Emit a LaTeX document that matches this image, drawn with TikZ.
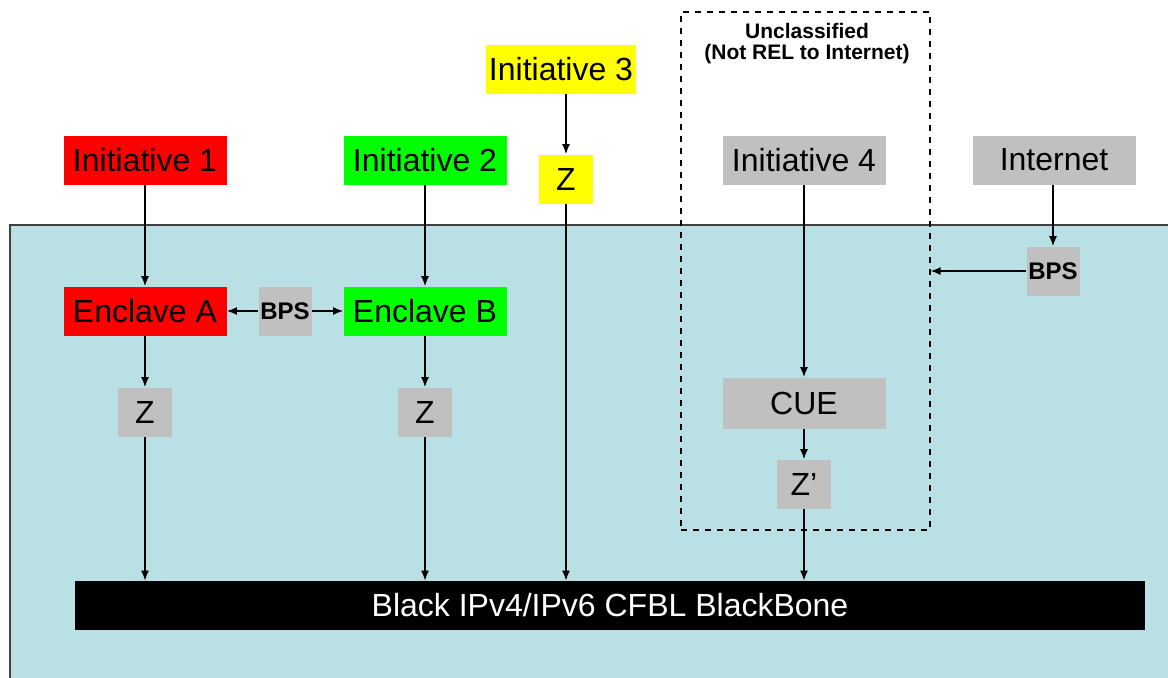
\documentclass[tikz,border=0pt]{standalone}
\usepackage{fontspec}
\setmainfont{Liberation Sans}
\usetikzlibrary{arrows.meta}
\definecolor{seablue}{RGB}{185,224,228}
\definecolor{boxgray}{RGB}{192,192,192}
\definecolor{redbox}{RGB}{255,0,0}
\definecolor{greenbox}{RGB}{0,255,0}
\definecolor{yellowbox}{RGB}{255,255,0}
\tikzset{
	unit/.style={minimum width=81.5pt, minimum height=24.5pt, inner sep=0pt, font=\fontsize{16}{19}\selectfont},
	zbox/.style={unit, minimum width=27pt},
	bpsbox/.style={unit, minimum width=26.5pt, fill=boxgray, font=\bfseries\fontsize{12}{14}\selectfont},
	link/.style={-{Latex[length=5pt,width=4pt]}, line width=0.75pt},
}

\begin{document}
\begin{tikzpicture}[x=0.5pt, y=-0.5pt]
			%%%%% START %%%%%
			\useasboundingbox (0, 0) rectangle (1168, 677);
			
			\draw[fill=seablue, draw=black!75, line width=0.9pt] (10, 225) rectangle (1175, 685);
			
			\node[draw, dashed, line width=0.6pt, minimum width=124.5pt, minimum height=259pt] (unclass) at (805.5, 271) {};
			\node[align=center, font=\bfseries\fontsize{10.5}{10.5}\selectfont] (unclasstxt) at (807, 44) {Unclassified\\(Not REL to Internet)};
			
			\node[unit, fill=redbox] (init1) at (145, 160) {Initiative 1};
			\node[unit, fill=greenbox] (init2) at (425, 160) {Initiative 2};
			\node[unit, fill=yellowbox, minimum width=75pt] (init3) at (561, 69) {Initiative 3};
			\node[unit, fill=boxgray] (init4) at (804, 160) {Initiative 4};
			\node[unit, fill=boxgray] (internet) at (1054, 160) {Internet};
			
			\node[zbox, fill=yellowbox] (z3) at (566, 179) {Z};
			\node[bpsbox] (bpsnet) at (1053, 271) {BPS};
			
			\node[unit, fill=redbox] (enclA) at (145, 311) {Enclave A};
			\node[bpsbox] (bpsmid) at (285, 311) {BPS};
			\node[unit, fill=greenbox] (enclB) at (425, 311) {Enclave B};
			
			\node[zbox, fill=boxgray] (zA) at (145, 412) {Z};
			\node[zbox, fill=boxgray] (zB) at (425, 412) {Z};
			\node[unit, fill=boxgray, minimum height=25.5pt] (cue) at (804, 403) {CUE};
			\node[zbox, fill=boxgray] (zcue) at (804, 484) {Z'};
			
			\node[fill=black, text=white, minimum width=535pt, minimum height=24.5pt, inner sep=0pt, font=\fontsize{16}{19}\selectfont] (bone) at (610, 605.5) {Black IPv4/IPv6 CFBL BlackBone};
			
			\draw[link] (init1) -- (enclA);
			\draw[link] (enclA) -- (zA);
			\draw[link] (zA) -- (zA |- bone.north);
			
			\draw[link] (init2) -- (enclB);
			\draw[link] (enclB) -- (zB);
			\draw[link] (zB) -- (zB |- bone.north);
			
			\draw[link] (init3.south -| z3) -- (z3);
			\draw[link] (z3) -- (z3 |- bone.north);
			
			\draw[link] (init4) -- (cue);
			\draw[link] (cue) -- (zcue);
			\draw[link] (zcue) -- (zcue |- bone.north);
			
			\draw[link] (bpsmid) -- (enclA);
			\draw[link] (bpsmid) -- (enclB);
			
			\draw[link] (internet.south -| bpsnet) -- (bpsnet);
			\draw[link] (bpsnet) -- (unclass.east |- bpsnet);
			%%%%% END %%%%%
\end{tikzpicture}
\end{document}
